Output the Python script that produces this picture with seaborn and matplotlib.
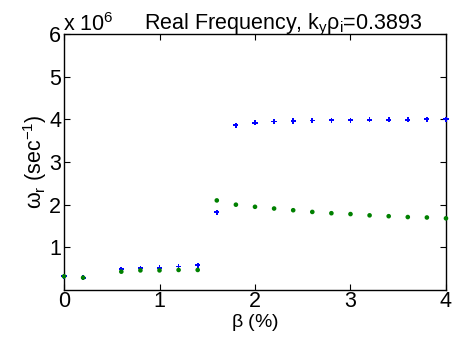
import matplotlib
matplotlib.use("Agg")
import matplotlib.pyplot as plt
import seaborn as sns
import pandas as pd

beta = [0, 0.2, 0.6, 0.8, 1.0, 1.2, 1.4, 1.6, 1.8, 2.0, 2.2, 2.4, 2.6, 2.8, 3.0, 3.2, 3.4, 3.6, 3.8, 4.0]
omega_blue = [0.32, 0.29, 0.49, 0.51, 0.52, 0.55, 0.58, 1.82, 3.86, 3.92, 3.95, 3.96, 3.97, 3.98, 3.98, 3.99, 3.99, 3.99, 4.0, 4.0]
omega_green = [0.32, 0.29, 0.43, 0.46, 0.46, 0.47, 0.47, 2.10, 2.00, 1.95, 1.91, 1.87, 1.83, 1.80, 1.78, 1.75, 1.73, 1.71, 1.70, 1.68]

sns.set_style("ticks", {"axes.edgecolor": "black", "xtick.color": "black", "ytick.color": "black",
                        "text.color": "black", "axes.labelcolor": "black"})
plt.rcParams['font.family'] = ['Liberation Sans', 'DejaVu Sans']
plt.rcParams['mathtext.fontset'] = 'custom'
plt.rcParams['mathtext.rm'] = 'Liberation Sans'
plt.rcParams['mathtext.it'] = 'Liberation Sans'

FS = 15.5

fig = plt.figure(figsize=(4.53, 3.39), dpi=100)
ax = fig.add_axes([0.1413, 0.1445, 0.8432, 0.7552])

dfb = pd.DataFrame({"beta": beta, "omega": omega_blue})
dfg = pd.DataFrame({"beta": beta, "omega": omega_green})
sns.scatterplot(data=dfb, x="beta", y="omega", ax=ax, marker="P", s=14, color="#0000ff", edgecolor="none", clip_on=False, zorder=3)
sns.scatterplot(data=dfg, x="beta", y="omega", ax=ax, marker="o", s=11, color="#008000", edgecolor="none", clip_on=False, zorder=4)

ax.set_xlim(0, 4)
ax.set_ylim(0, 6)
ax.set_xticks([0, 1, 2, 3, 4])
ax.set_yticks([1, 2, 3, 4, 5, 6])
ax.tick_params(direction="in", length=4, width=0.8, labelsize=FS, top=True, right=True, pad=2, colors="black")
ax.tick_params(axis="x", pad=1)
for s in ax.spines.values():
    s.set_linewidth(1.0)
    s.set_color("black")
    s.set_visible(True)
ax.set_xlabel(r"$\beta$ (%)", fontsize=14, labelpad=0)
ax.set_ylabel(r"$\omega_r$ (sec$^{-1}$)", fontsize=FS, labelpad=0)
ax.set_title(r"Real Frequency, k$_y\rho_i$=0.3893", fontsize=FS, pad=3, x=0.575)
fig.text(0.139, 0.895, r"x 10$^6$", fontsize=FS, ha="left", va="bottom")

fig.savefig("out.png", dpi=100)
